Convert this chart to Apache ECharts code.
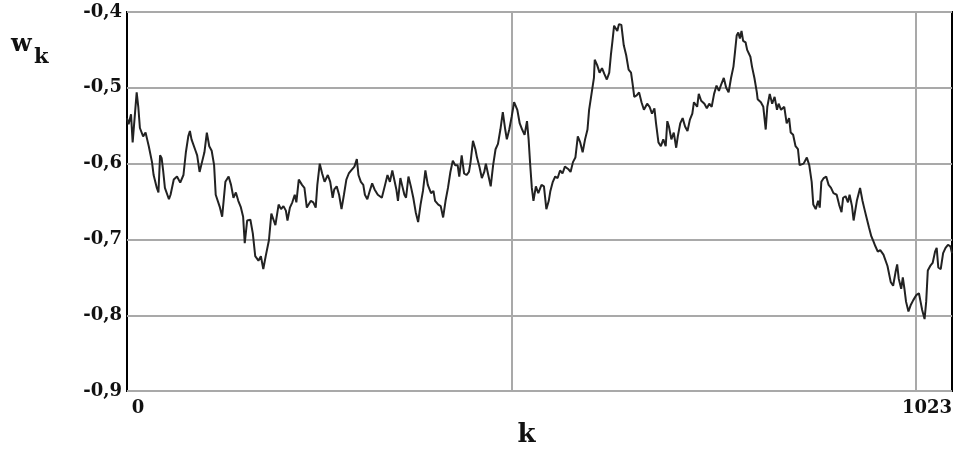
<!DOCTYPE html>
<html>
<head>
<meta charset="utf-8">
<script src="https://cdn.jsdelivr.net/npm/echarts@6/dist/echarts.min.js"></script>
<style>html,body{margin:0;padding:0;background:#fff}#c{width:961px;height:453px}</style>
</head>
<body>
<div id="c"></div>
<script>
// sample index k
const kValues = [0,2,5,7,12,14,16,20,23,25,27,31,33,37,39,41,43,45,47,52,54,58,62,66,70,73,76,78,80,85,87,90,93,96,99,102,105,108,110,115,118,122,126,129,132,135,138,141,144,146,149,153,156,159,163,166,169,172,176,179,182,184,188,191,194,197,199,202,205,208,210,213,217,220,223,225,228,231,234,236,239,242,245,249,252,255,257,260,263,266,269,272,275,278,282,285,287,290,293,295,298,301,304,307,311,313,316,320,323,326,329,331,334,336,339,341,344,346,349,352,355,358,361,364,367,370,373,377,380,382,386,389,392,395,398,401,404,407,410,412,415,418,421,424,426,429,432,434,437,440,443,445,448,451,454,457,460,463,466,469,471,474,477,480,484,487,490,493,496,498,500,502,504,507,510,514,517,520,523,525,528,531,534,537,540,543,547,550,553,556,559,562,565,568,571,573,576,579,580,583,586,589,592,595,598,600,602,604,608,610,613,616,619,622,625,627,629,632,635,638,641,645,648,651,654,656,659,662,665,668,670,672,675,678,681,683,686,689,692,695,698,701,703,707,709,712,716,719,722,725,728,731,734,737,740,743,746,749,752,754,756,758,760,762,764,767,769,773,775,778,781,782,786,789,792,794,797,800,803,806,808,811,815,818,821,823,826,829,832,834,836,839,843,846,849,851,854,857,859,861,864,867,870,873,876,880,883,886,888,891,894,896,899,901,905,907,909,912,914,917,920,923,925,928,931,934,938,940,943,947,950,953,955,957,960,962,964,966,969,972,975,979,982,984,986,989,991,993,996,999,1002,1004,1006,1009,1012,1015,1018,1021,1023];
// w_k values
const wValues = [-0.540,-0.548,-0.535,-0.572,-0.506,-0.525,-0.553,-0.564,-0.559,-0.568,-0.577,-0.598,-0.615,-0.632,-0.638,-0.589,-0.593,-0.611,-0.632,-0.647,-0.641,-0.621,-0.617,-0.625,-0.615,-0.585,-0.564,-0.557,-0.568,-0.583,-0.589,-0.611,-0.598,-0.585,-0.559,-0.577,-0.583,-0.602,-0.641,-0.657,-0.670,-0.624,-0.617,-0.628,-0.645,-0.638,-0.649,-0.657,-0.670,-0.705,-0.675,-0.674,-0.692,-0.722,-0.728,-0.722,-0.739,-0.722,-0.701,-0.666,-0.675,-0.681,-0.654,-0.660,-0.656,-0.662,-0.675,-0.658,-0.651,-0.641,-0.651,-0.621,-0.628,-0.632,-0.658,-0.660,-0.649,-0.651,-0.658,-0.628,-0.600,-0.613,-0.624,-0.615,-0.624,-0.645,-0.634,-0.630,-0.641,-0.660,-0.641,-0.621,-0.613,-0.609,-0.604,-0.594,-0.615,-0.624,-0.628,-0.641,-0.647,-0.636,-0.626,-0.634,-0.641,-0.643,-0.645,-0.628,-0.615,-0.624,-0.609,-0.611,-0.634,-0.649,-0.619,-0.628,-0.641,-0.645,-0.617,-0.630,-0.645,-0.664,-0.677,-0.654,-0.636,-0.609,-0.628,-0.639,-0.636,-0.649,-0.654,-0.656,-0.671,-0.649,-0.632,-0.611,-0.596,-0.602,-0.602,-0.617,-0.589,-0.613,-0.615,-0.611,-0.598,-0.570,-0.581,-0.592,-0.604,-0.619,-0.611,-0.600,-0.615,-0.630,-0.602,-0.581,-0.574,-0.555,-0.532,-0.555,-0.568,-0.555,-0.538,-0.519,-0.529,-0.547,-0.555,-0.562,-0.544,-0.568,-0.602,-0.632,-0.649,-0.630,-0.639,-0.628,-0.630,-0.660,-0.649,-0.636,-0.624,-0.617,-0.619,-0.609,-0.613,-0.604,-0.607,-0.611,-0.598,-0.592,-0.564,-0.572,-0.585,-0.568,-0.555,-0.529,-0.508,-0.487,-0.463,-0.470,-0.480,-0.474,-0.482,-0.489,-0.480,-0.457,-0.438,-0.418,-0.425,-0.416,-0.417,-0.444,-0.457,-0.476,-0.480,-0.495,-0.512,-0.510,-0.506,-0.519,-0.529,-0.521,-0.525,-0.534,-0.527,-0.547,-0.572,-0.577,-0.568,-0.577,-0.544,-0.551,-0.568,-0.559,-0.579,-0.564,-0.547,-0.540,-0.551,-0.557,-0.542,-0.534,-0.519,-0.525,-0.508,-0.517,-0.521,-0.527,-0.521,-0.525,-0.508,-0.497,-0.504,-0.495,-0.487,-0.500,-0.506,-0.487,-0.472,-0.452,-0.431,-0.427,-0.435,-0.425,-0.438,-0.440,-0.450,-0.459,-0.472,-0.487,-0.506,-0.515,-0.519,-0.525,-0.555,-0.525,-0.508,-0.521,-0.512,-0.529,-0.521,-0.529,-0.525,-0.547,-0.540,-0.559,-0.562,-0.577,-0.581,-0.602,-0.600,-0.600,-0.592,-0.602,-0.624,-0.654,-0.660,-0.649,-0.658,-0.624,-0.619,-0.617,-0.628,-0.632,-0.639,-0.641,-0.654,-0.664,-0.645,-0.643,-0.651,-0.641,-0.656,-0.675,-0.649,-0.651,-0.632,-0.649,-0.658,-0.671,-0.684,-0.696,-0.701,-0.709,-0.716,-0.714,-0.720,-0.718,-0.735,-0.756,-0.761,-0.743,-0.733,-0.752,-0.765,-0.750,-0.765,-0.782,-0.795,-0.786,-0.780,-0.773,-0.771,-0.782,-0.793,-0.805,-0.782,-0.741,-0.735,-0.731,-0.716,-0.711,-0.737,-0.739,-0.718,-0.711,-0.707,-0.709,-0.718];
// tick labels
const yTicks = [-0.9,-0.8,-0.7,-0.6,-0.5,-0.4];
const xTickLabels = ['0','1023'];
const vGridK = [477, 978];
const yName = 'w';
const yNameSub = 'k';
const xName = 'k';

const seriesData = kValues.map((k, i) => [k, wValues[i]]);
const serif = 'DejaVu Serif';

const chart = echarts.init(document.getElementById('c'), null, {renderer: 'canvas'});
chart.setOption({
  animation: false,
  backgroundColor: '#ffffff',
  graphic: [
    {type: 'text', left: 11, top: 33, style: {text: yName, font: 'bold 24px "DejaVu Serif"', fill: '#111'}},
    {type: 'text', left: 34, top: 47, style: {text: yNameSub, font: 'bold 21px "DejaVu Serif"', fill: '#111'}}
  ],
  grid: {left: 127, right: 9, top: 12, bottom: 48, show: true, borderColor: '#000', borderWidth: 2, backgroundColor: 'transparent'},
  xAxis: {
    type: 'value', min: 0, max: 1023, interval: 1023,
    name: xName, nameLocation: 'middle', nameGap: 19,
    nameTextStyle: {fontFamily: serif, fontWeight: 'bold', fontSize: 26, color: '#111', padding: [0, 26, 0, 0]},
    axisLine: {show: false}, axisTick: {show: false}, splitLine: {show: false},
    axisLabel: {
      showMinLabel: true, showMaxLabel: true, margin: 8,
      formatter: (v) => v === 0 ? '{l|' + xTickLabels[0] + '}' : '{r|' + xTickLabels[1] + '}',
      rich: {
        l: {fontFamily: serif, fontWeight: 'bold', fontSize: 18, color: '#111', padding: [0, 0, 0, 22]},
        r: {fontFamily: serif, fontWeight: 'bold', fontSize: 18, color: '#111', padding: [0, 50, 0, 0]}
      }
    }
  },
  yAxis: {
    type: 'value', min: yTicks[0], max: yTicks[yTicks.length - 1], interval: 0.1,
    axisLine: {show: false}, axisTick: {show: false},
    splitLine: {show: true, lineStyle: {color: '#a9a9a9', width: 2}},
    axisLabel: {
      margin: 5, fontFamily: serif, fontWeight: 'bold', fontSize: 18, color: '#111',
      formatter: (v) => v.toFixed(1).replace('.', ',')
    }
  },
  series: [{
    type: 'line', data: seriesData, showSymbol: false, symbol: 'none',
    lineStyle: {color: '#222222', width: 2}, z: 3,
    markLine: {
      silent: true, symbol: 'none', label: {show: false}, z: 1,
      lineStyle: {color: '#a9a9a9', width: 2, type: 'solid'},
      data: vGridK.map(k => ({xAxis: k}))
    }
  }]
});
</script>
</body>
</html>
